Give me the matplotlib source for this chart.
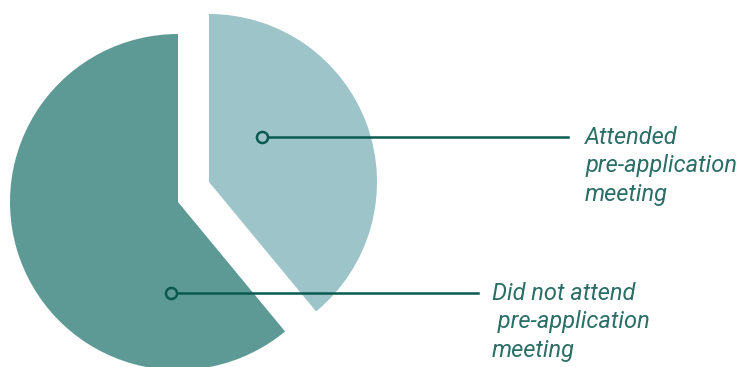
import matplotlib.pyplot as plt

labels = ["Attended\npre-application\nmeeting", "Did not attend\n pre-application\nmeeting"]
shares = [39, 61]
colors = ["#9dc4c9", "#5e9a95"]
line_color = "#0b5a52"
text_color = "#2a6e66"

fig = plt.figure(figsize=(7.41, 3.67), dpi=100)
ax = fig.add_axes([0, 0, 1, 1])

# pie drawn in pixel units so the layout matches the reference
wedges, _ = ax.pie(shares, colors=colors, startangle=90, counterclock=False,
                   radius=168, center=(178, 165), frame=True)
ax.set_xlim(0, 741)
ax.set_ylim(0, 367)
ax.axis("off")
# pull the "attended" slice out up and to the right
wedges[0].set_center((209, 185))

# callouts: marker inside slice, line, label
callouts = [((262, 230), 568, 585), ((171, 74), 478, 492)]
for i, ((px, py), x_end, x_text) in enumerate(callouts):
    ax.plot([px, x_end], [py, py], color=line_color, lw=1.8, zorder=3)
    ax.plot(px, py, "o", ms=8, mfc=colors[i], mec=line_color, mew=1.8, zorder=4)
    ax.text(x_text, py + 11, labels[i], fontsize=17, style="italic", family="Roboto",
            color=text_color, va="top", ha="left", linespacing=1.3)

fig.savefig("out.png", dpi=100)
